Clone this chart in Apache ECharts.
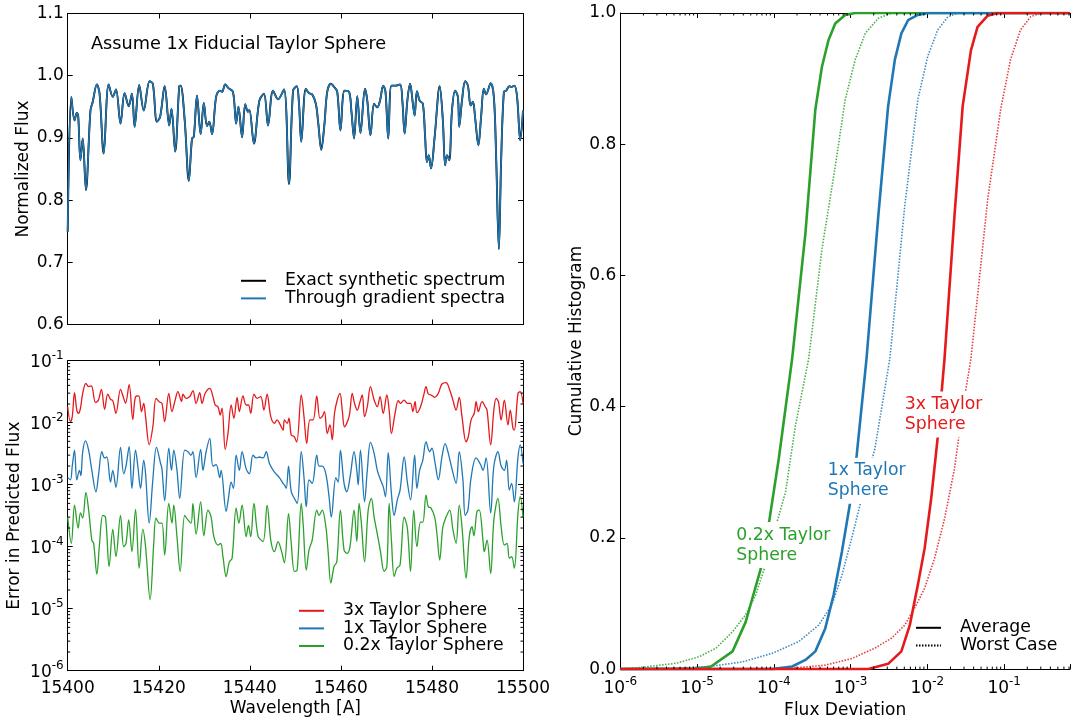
<!DOCTYPE html>
<html><head><meta charset="utf-8">
<script src="https://cdn.jsdelivr.net/npm/echarts@6/dist/echarts.min.js"></script>
<style>html,body{margin:0;padding:0;background:#fff}#c{width:1073px;height:724px}</style>
</head><body><div id="c"></div>
<script>
const FONT = 'DejaVu Sans';
const C_RED = '#e41a1c', C_BLUE = '#1f77b4', C_GREEN = '#2ca02c';

// ---- Top panel: normalized spectrum ----
const specWave = [
15400.0,15400.8,15401.5,15402.0,15402.3,15402.8,15403.3,15404.0,15405.0,15405.5,
15406.4,15407.0,15407.9,15409.0,15409.9,15410.6,15411.6,15412.5,15413.4,15414.1,
15414.7,15415.7,15416.7,15418.0,15418.7,15419.6,15420.3,15421.3,15422.3,15422.8,
15423.6,15424.5,15424.8,15425.7,15426.6,15427.3,15427.7,15428.4,15429.2,15429.9,
15430.6,15431.1,15431.7,15432.6,15433.4,15433.9,15434.6,15435.3,15436.3,15437.0,
15437.5,15438.3,15439.0,15439.6,15439.9,15440.9,15442.1,15443.1,15444.0,15445.1,
15446.2,15447.5,15448.6,15449.5,15450.3,15450.8,15451.3,15452.3,15453.0,15453.7,
15454.5,15455.0,15455.7,15456.4,15457.0,15457.8,15458.5,15459.2,15459.9,15460.8,
15461.8,15462.3,15462.9,15463.6,15464.3,15465.3,15465.8,15466.5,15467.3,15468.0,
15468.6,15469.3,15469.8,15470.4,15471.1,15472.0,15473.0,15473.5,15474.0,15474.6,
15475.2,15475.8,15476.2,15476.7,15477.3,15478.0,15478.5,15478.9,15479.3,15479.8,
15480.6,15481.7,15482.4,15482.9,15483.3,15483.8,15484.4,15485.1,15485.7,15486.0,
15486.6,15487.3,15487.9,15488.5,15489.0,15489.5,15490.2,15490.8,15491.4,15491.9,
15492.9,15493.6,15494.1,15494.7,15495.2,15495.8,15496.3,15497.0,15497.5,15498.1,
15498.7,15499.4,15500.0];
const specFlux = [
0.749,0.966,0.928,0.940,0.936,0.864,0.899,0.816,0.944,0.958,
0.986,0.971,0.875,0.986,0.966,0.978,0.923,0.972,0.951,0.971,
0.918,0.985,0.944,0.991,0.987,0.926,0.934,0.983,0.920,0.947,
0.878,0.983,0.984,0.928,0.831,0.899,0.902,0.968,0.906,0.956,
0.919,0.926,0.906,0.966,0.976,0.974,0.986,0.980,0.974,0.923,
0.950,0.901,0.954,0.942,0.945,0.891,0.960,0.971,0.920,0.976,
0.962,0.978,0.826,0.976,0.983,0.955,0.894,0.979,0.972,0.970,
0.955,0.926,0.881,0.923,0.974,0.987,0.982,0.974,0.912,0.976,
0.974,0.944,0.899,0.967,0.908,0.979,0.960,0.904,0.955,0.949,
0.960,0.984,0.974,0.899,0.984,0.984,0.986,0.960,0.907,0.960,
0.987,0.956,0.936,0.975,0.960,0.955,0.902,0.861,0.872,0.851,
0.902,0.983,0.928,0.856,0.872,0.864,0.944,0.976,0.966,0.918,
0.960,0.991,0.984,0.952,0.958,0.931,0.888,0.934,0.979,0.970,
0.988,0.966,0.870,0.721,0.864,0.974,0.976,0.983,0.982,0.984,
0.966,0.896,0.944];

// ---- Bottom-left panel: error in predicted flux ----
const redWave = [
15400.0,15400.6,15401.0,15401.5,15402.0,15402.4,15402.8,15403.3,15404.0,15404.6,
15405.2,15406.1,15406.7,15407.4,15408.1,15408.8,15409.4,15409.9,15410.6,15411.6,
15412.3,15412.7,15413.5,15414.3,15414.9,15415.6,15416.2,15416.7,15417.1,15417.9,
15418.7,15419.4,15420.1,15420.7,15421.3,15422.2,15422.9,15423.6,15424.2,15425.0,
15425.3,15426.0,15426.8,15427.5,15428.2,15429.0,15429.5,15430.2,15431.2,15431.9,
15432.4,15433.0,15433.5,15433.9,15434.6,15435.2,15435.9,15436.5,15437.2,15437.7,
15438.5,15439.2,15439.7,15440.2,15440.9,15441.6,15442.4,15443.1,15443.8,15444.6,
15445.4,15446.0,15446.7,15447.3,15447.6,15448.2,15448.6,15449.1,15449.7,15450.3,
15451.3,15451.9,15452.5,15453.2,15453.9,15454.7,15455.4,15455.9,15456.4,15457.0,
15457.6,15458.1,15458.6,15459.2,15459.8,15460.3,15460.8,15461.8,15462.5,15463.0,
15463.6,15464.2,15464.7,15465.2,15465.8,15466.5,15467.3,15468.0,15468.6,15469.3,
15470.1,15470.6,15471.1,15471.9,15472.6,15473.1,15473.9,15474.6,15475.3,15475.8,
15476.3,15476.7,15477.5,15478.2,15478.7,15479.2,15479.8,15480.6,15481.4,15482.2,
15483.1,15483.9,15484.6,15485.3,15486.0,15486.6,15487.5,15488.0,15488.6,15489.3,
15489.7,15490.2,15491.0,15491.7,15492.1,15492.9,15493.6,15494.1,15494.6,15495.2,
15495.9,15496.7,15497.2,15497.8,15498.1,15498.9,15499.4,15500.0];
const redErr = [
0.0181,0.0104,0.0125,0.0305,0.0160,0.0142,0.0171,0.0298,0.0432,0.0381,
0.0391,0.0213,0.0227,0.0345,0.0164,0.0290,0.0238,0.0227,0.0142,0.0345,
0.0247,0.0205,0.0410,0.0113,0.0263,0.0270,0.0151,0.0205,0.0125,0.0044,
0.0086,0.0247,0.0218,0.0205,0.0104,0.0298,0.0151,0.0232,0.0317,0.0220,
0.0290,0.0247,0.0263,0.0329,0.0205,0.0305,0.0205,0.0298,0.0358,0.0263,
0.0193,0.0181,0.0133,0.0171,0.0037,0.0067,0.0193,0.0118,0.0257,0.0151,
0.0270,0.0193,0.0193,0.0142,0.0290,0.0247,0.0263,0.0160,0.0290,0.0125,
0.0098,0.0111,0.0092,0.0076,0.0111,0.0098,0.0118,0.0063,0.0060,0.0049,
0.0280,0.0125,0.0046,0.0111,0.0111,0.0270,0.0118,0.0125,0.0151,0.0067,
0.0092,0.0053,0.0142,0.0232,0.0298,0.0160,0.0086,0.0125,0.0298,0.0205,
0.0160,0.0218,0.0280,0.0125,0.0181,0.0381,0.0232,0.0181,0.0263,0.0142,
0.0280,0.0160,0.0067,0.0142,0.0227,0.0205,0.0232,0.0205,0.0205,0.0151,
0.0218,0.0145,0.0181,0.0280,0.0381,0.0290,0.0280,0.0257,0.0298,0.0421,
0.0443,0.0337,0.0232,0.0160,0.0257,0.0125,0.0049,0.0060,0.0111,0.0142,
0.0218,0.0151,0.0218,0.0181,0.0160,0.0044,0.0160,0.0247,0.0218,0.0111,
0.0232,0.0092,0.0160,0.0081,0.0076,0.0298,0.0317,0.0205];

const blueWave = [
15400.0,15400.6,15401.0,15401.5,15402.0,15402.6,15402.9,15403.3,15403.9,15404.6,
15405.3,15406.2,15406.8,15407.5,15408.1,15408.6,15409.4,15409.9,15410.6,15411.6,
15412.3,15412.8,15413.5,15414.1,15414.9,15415.4,15416.0,15416.7,15417.1,15417.9,
15418.7,15419.5,15420.4,15420.7,15421.3,15422.2,15422.8,15423.3,15424.0,15424.6,
15425.7,15426.4,15427.1,15427.5,15428.2,15429.2,15429.7,15430.4,15431.2,15431.9,
15432.6,15433.4,15433.7,15434.8,15435.3,15435.9,15436.4,15437.0,15437.7,15438.3,
15439.2,15439.9,15440.7,15441.4,15442.1,15442.9,15443.6,15444.3,15445.4,15446.5,
15447.3,15447.6,15448.0,15448.5,15449.1,15449.8,15450.4,15451.3,15451.9,15452.4,
15453.0,15453.7,15454.7,15455.2,15455.9,15456.7,15457.4,15457.9,15458.9,15459.4,
15459.9,15460.7,15461.3,15462.0,15462.9,15463.5,15463.8,15464.3,15465.2,15465.8,
15466.5,15467.3,15468.0,15468.7,15469.3,15469.8,15470.4,15471.1,15471.7,15472.4,
15473.0,15473.9,15474.6,15475.3,15476.2,15476.7,15477.3,15478.0,15478.7,15479.5,
15480.0,15480.7,15481.4,15482.2,15482.9,15483.6,15484.4,15485.3,15486.0,15486.8,
15487.3,15487.9,15488.6,15489.7,15490.7,15491.2,15491.9,15492.9,15493.6,15494.5,
15495.2,15495.9,15496.4,15497.0,15497.5,15498.1,15498.9,15499.4,15500.0];
const blueErr = [
0.0013,0.0012,0.0020,0.0036,0.0012,0.0017,0.0014,0.0034,0.0051,0.0036,
0.0017,0.00077,0.0015,0.0034,0.0027,0.0028,0.0011,0.0017,0.00091,0.0040,
0.0015,0.0020,0.0041,0.00087,0.0036,0.0020,0.00087,0.0025,0.0015,0.00024,
0.0012,0.0040,0.0022,0.0018,0.00055,0.0039,0.0017,0.0036,0.0017,0.00060,
0.0036,0.0034,0.0030,0.0034,0.0013,0.0037,0.0017,0.0034,0.0056,0.0020,
0.0021,0.0013,0.0017,0.00037,0.00060,0.0011,0.00087,0.0030,0.0017,0.0034,
0.0018,0.0015,0.0030,0.0027,0.0028,0.0027,0.0034,0.0022,0.0016,0.0013,
0.00105,0.00099,0.00087,0.0020,0.00077,0.00060,0.00050,0.0034,0.0013,0.00044,
0.0012,0.00105,0.0030,0.0020,0.0020,0.0015,0.00064,0.00030,0.0013,0.0011,
0.0036,0.00105,0.00077,0.0013,0.0034,0.0017,0.00099,0.0036,0.00053,0.0017,
0.0048,0.0032,0.0017,0.0012,0.00093,0.00064,0.0033,0.00072,0.00032,0.00057,
0.00082,0.0028,0.0011,0.00057,0.0030,0.00087,0.0017,0.0025,0.0049,0.0034,
0.0039,0.0022,0.0012,0.0028,0.0046,0.0032,0.0018,0.00105,0.0034,0.0012,
0.00032,0.00039,0.0013,0.0027,0.0021,0.0017,0.0027,0.00035,0.0020,0.0034,
0.0020,0.0017,0.0025,0.00082,0.00105,0.00053,0.0028,0.0044,0.0022];

const greenWave = [
15400.0,15400.8,15401.5,15402.3,15402.8,15403.3,15404.0,15404.6,15405.3,15405.7,
15406.4,15407.0,15407.7,15408.3,15409.1,15409.9,15410.6,15411.6,15412.3,15412.8,
15413.4,15414.1,15414.9,15415.7,15416.5,15417.1,15418.1,15418.9,15419.4,15420.1,
15420.7,15421.3,15422.2,15422.9,15423.3,15424.0,15424.7,15425.7,15426.4,15427.1,
15427.5,15428.2,15429.2,15429.9,15430.8,15431.5,15432.1,15433.0,15433.6,15434.1,
15434.8,15435.5,15436.1,15437.0,15437.6,15438.3,15439.2,15439.7,15440.2,15440.9,
15441.8,15442.9,15443.8,15444.6,15445.4,15446.2,15446.9,15447.6,15448.5,15449.1,
15449.8,15450.4,15451.3,15451.7,15452.4,15453.0,15453.7,15454.7,15455.2,15455.9,
15456.7,15457.2,15457.8,15458.5,15459.1,15459.9,15460.7,15461.4,15462.0,15462.9,
15463.5,15464.0,15464.5,15465.2,15466.0,15466.7,15467.3,15468.0,15468.7,15469.5,
15470.1,15470.6,15471.1,15471.7,15472.3,15473.0,15473.9,15474.6,15475.3,15476.0,
15476.7,15477.5,15478.0,15478.7,15479.2,15479.8,15480.6,15481.1,15481.7,15482.4,
15483.1,15483.9,15484.6,15485.3,15486.0,15486.6,15487.5,15488.2,15488.8,15489.2,
15489.9,15490.4,15491.2,15491.5,15492.1,15492.9,15493.6,15494.5,15495.2,15495.9,
15496.5,15497.0,15497.5,15498.1,15498.9,15499.4,15500.0];
const greenErr = [
0.00030,0.000113,0.00047,0.00020,0.00035,0.00029,0.00075,0.00039,0.000128,0.000113,
0.000036,0.000113,0.00032,0.00030,0.000048,0.00019,0.000069,0.00032,0.000100,0.000113,
0.00027,0.000083,0.00040,0.000045,0.00019,0.000100,0.000014,0.000113,0.00029,0.00024,
0.00024,0.000073,0.00050,0.00024,0.00047,0.000145,0.000040,0.00032,0.00027,0.00024,
0.00050,0.00016,0.00053,0.00015,0.00039,0.00030,0.000145,0.000106,0.000113,0.000069,
0.000033,0.000057,0.000065,0.00042,0.00024,0.00047,0.000145,0.00022,0.000145,0.00050,
0.00015,0.000121,0.00047,0.000128,0.000083,0.000121,0.000088,0.000055,0.00034,0.000113,
0.000040,0.000042,0.00050,0.00024,0.000042,0.000088,0.000128,0.00039,0.00032,0.00039,
0.00021,0.000083,0.000026,0.000048,0.000057,0.00039,0.000088,0.000078,0.000100,0.00039,
0.000121,0.00050,0.00024,0.000057,0.00039,0.00060,0.00030,0.00016,0.000083,0.000040,
0.000048,0.00050,0.000128,0.000033,0.000045,0.000051,0.00030,0.00020,0.000040,0.00039,
0.000100,0.00025,0.00025,0.00068,0.00044,0.00042,0.00030,0.00016,0.000061,0.00021,
0.00030,0.00039,0.00019,0.000113,0.00047,0.00021,0.000031,0.000145,0.00021,0.00015,
0.00037,0.00039,0.000128,0.000083,0.000128,0.000037,0.00027,0.00060,0.00021,0.000106,
0.000113,0.000065,0.000069,0.000045,0.00035,0.00064,0.00030];

// ---- Right panel: cumulative histograms ----
const g02AvgX = [1e-6,1.0e-5,1.52e-5,2.9e-5,4.3e-5,5.25e-5,6.76e-5,8.8e-5,1.16e-4,1.73e-4,2.58e-4,3.47e-4,4.23e-4,5.16e-4,6.3e-4,8.5e-4,1.15e-3,0.72];
const g02AvgY = [0,0.001,0.004,0.027,0.072,0.108,0.153,0.229,0.321,0.473,0.665,0.853,0.918,0.959,0.984,0.997,1,1];
const g02WorstX = [1e-6,2.0e-6,5.4e-6,1.07e-5,1.77e-5,2.9e-5,4.3e-5,5.8e-5,7.8e-5,1.1e-4,1.42e-4,1.91e-4,2.84e-4,4.23e-4,6.3e-4,8.5e-4,1.15e-3,1.55e-3,2.3e-3,3.4e-3,0.72];
const g02WorstY = [0,0.003,0.009,0.019,0.032,0.057,0.083,0.113,0.159,0.224,0.27,0.371,0.473,0.640,0.766,0.868,0.929,0.969,0.992,1,1];
const x1AvgX = [1e-6,9.5e-5,1.73e-4,2.58e-4,3.47e-4,4.67e-4,6.0e-4,7.7e-4,9.9e-4,1.2e-3,1.61e-3,2.29e-3,3.08e-3,3.77e-3,4.58e-3,5.6e-3,7.5e-3,1.01e-2,0.72];
const x1AvgY = [0,0,0.004,0.014,0.027,0.062,0.113,0.179,0.255,0.326,0.473,0.69,0.858,0.929,0.969,0.989,0.997,1,1];
const x1WorstX = [1e-6,3.3e-6,1.45e-5,3.9e-5,9.5e-5,2.11e-4,3.83e-4,5.7e-4,7.7e-4,1.03e-3,1.39e-3,2.07e-3,3.24e-3,5.07e-3,7.5e-3,1.01e-2,1.36e-2,1.84e-2,2.48e-2,0.72];
const x1WorstY = [0,0,0.004,0.011,0.024,0.042,0.067,0.098,0.143,0.199,0.260,0.336,0.473,0.706,0.868,0.934,0.974,0.994,1,1];
const x3AvgX = [1e-6,1.7e-3,3.08e-3,4.58e-3,5.9e-3,7.5e-3,9.2e-3,1.12e-2,1.37e-2,1.67e-2,2.25e-2,2.88e-2,3.69e-2,4.5e-2,6.1e-2,8.2e-2,0.72];
const x3AvgY = [0,0,0.008,0.027,0.067,0.128,0.184,0.260,0.356,0.473,0.69,0.858,0.943,0.979,0.996,1,1];
const x3WorstX = [1e-6,6.4e-5,1.73e-4,4.67e-4,1.03e-3,2.07e-3,3.4e-3,5.07e-3,6.8e-3,9.2e-3,1.24e-2,1.67e-2,2.25e-2,2.88e-2,3.69e-2,6.1e-2,9.0e-2,0.121,0.163,0.22,0.296,0.72];
const x3WorstY = [0,0,0.0015,0.006,0.016,0.032,0.047,0.067,0.093,0.123,0.169,0.229,0.305,0.397,0.473,0.716,0.853,0.929,0.974,0.994,1,1];

// curve annotations in the right panel (data coordinates of text anchor)
const annText = ['0.2x Taylor\nSphere', '1x Taylor\nSphere', '3x Taylor\nSphere'];
const annX = [3.05e-5, 4.76e-4, 4.77e-3];
const annY = [0.189, 0.287, 0.388];
const annColor = [C_GREEN, C_BLUE, C_RED];

const zip = (a, b) => a.map((v, i) => [v, b[i]]);

// minor tick positions for log axes
const minorLogY = [], minorLogX = [];
for (let n = -6; n <= -2; n++) for (let k = 2; k <= 9; k++) minorLogY.push(k * Math.pow(10, n));
for (let n = -6; n <= -1; n++) for (let k = 2; k <= 9; k++) { const v = k * Math.pow(10, n); if (v < 0.72) minorLogX.push(v); }

const chart = echarts.init(document.getElementById('c'), null, {renderer: 'canvas'});

function ax(extra) {
  return Object.assign({
    axisLine: {show: true, onZero: false, lineStyle: {color: '#000', width: 1}},
    axisTick: {show: true, inside: true, length: 5, lineStyle: {color: '#000', width: 1}},
    splitLine: {show: false},
    axisLabel: {show: false},
    nameTextStyle: {fontFamily: FONT, fontSize: 17, color: '#000'}
  }, extra);
}
const lab = (extra) => Object.assign({show: true, fontFamily: FONT, fontSize: 17, color: '#000'}, extra);
const logRich = {
  b: {fontFamily: FONT, fontSize: 17, color: '#000', verticalAlign: 'bottom'},
  s: {fontFamily: FONT, fontSize: 12, color: '#000', verticalAlign: 'bottom', padding: [0, 0, 9, 0]}
};
function logFmt(v) {
  const e = Math.log10(v), r = Math.round(e);
  if (Math.abs(e - r) > 1e-6) return '';
  return '{b|10}{s|' + r + '}';
}
const lineS = (name, x, y, xi, yi, color, w, extra) => Object.assign({
  name, type: 'line', xAxisIndex: xi, yAxisIndex: yi, data: zip(x, y),
  symbol: 'none', showSymbol: false, animation: false,
  lineStyle: {color, width: w}, itemStyle: {color}
}, extra || {});
const dotted = [1.5, 1.5];

const legendText = {fontFamily: FONT, fontSize: 17.3, color: '#000', lineHeight: 17.6, padding: [0, 0, 0, 14]};
const legendBase = {orient: 'vertical', itemWidth: 25, itemHeight: 10, itemGap: 0, padding: 0,
  selectedMode: false, textStyle: legendText, itemStyle: {opacity: 0}};

const option = {
  animation: false,
  backgroundColor: '#fff',
  title: {text: 'Assume 1x Fiducial Taylor Sphere', left: 91, top: 35, padding: 0,
    textStyle: {fontFamily: FONT, fontSize: 17.7, fontWeight: 'normal', color: '#000'}},
  grid: [
    {left: 67.7, top: 13.5, width: 455.3, height: 311},
    {left: 67.7, top: 360.7, width: 455.3, height: 310},
    {left: 620.3, top: 13, width: 470, height: 658}
  ],
  legend: [
    Object.assign({data: ['Exact synthetic spectrum', 'Through gradient spectra'], left: 240, top: 272}, legendBase),
    Object.assign({data: ['3x Taylor Sphere', '1x Taylor Sphere', '0.2x Taylor Sphere'], left: 298, top: 602}, legendBase),
    Object.assign({data: ['Average', 'Worst Case'], left: 915, top: 619}, legendBase)
  ],
  xAxis: [
    ax({gridIndex: 0, type: 'value', min: 15400, max: 15500, interval: 20, position: 'bottom'}),
    ax({gridIndex: 0, type: 'value', min: 15400, max: 15500, interval: 20, position: 'top'}),
    ax({gridIndex: 1, type: 'value', min: 15400, max: 15500, interval: 20, position: 'bottom',
        axisLabel: lab({margin: 9, formatter: v => String(v)}), name: 'Wavelength [A]', nameLocation: 'middle', nameGap: 29}),
    ax({gridIndex: 1, type: 'value', min: 15400, max: 15500, interval: 20, position: 'top'}),
    ax({gridIndex: 2, type: 'log', logBase: 10, min: 1e-6, max: 0.72, position: 'bottom',
        axisLabel: lab({margin: 7, formatter: logFmt, rich: logRich}), name: 'Flux Deviation', nameLocation: 'middle', nameGap: 31}),
    ax({gridIndex: 2, type: 'log', logBase: 10, min: 1e-6, max: 0.72, position: 'top'})
  ],
  yAxis: [
    ax({gridIndex: 0, type: 'value', min: 0.6, max: 1.1, interval: 0.1, position: 'left',
        axisLabel: lab({margin: 4, formatter: v => v.toFixed(1)}), name: 'Normalized Flux', nameLocation: 'middle', nameGap: 36}),
    ax({gridIndex: 0, type: 'value', min: 0.6, max: 1.1, interval: 0.1, position: 'right'}),
    ax({gridIndex: 1, type: 'log', logBase: 10, min: 1e-6, max: 0.1, position: 'left',
        axisLabel: lab({margin: 4, formatter: logFmt, rich: logRich}), name: 'Error in Predicted Flux', nameLocation: 'middle', nameGap: 45}),
    ax({gridIndex: 1, type: 'log', logBase: 10, min: 1e-6, max: 0.1, position: 'right'}),
    ax({gridIndex: 2, type: 'value', min: 0, max: 1, interval: 0.2, position: 'left',
        axisLabel: lab({margin: 4, formatter: v => v.toFixed(1)}), name: 'Cumulative Histogram', nameLocation: 'middle', nameGap: 34})
  ],
  series: [
    lineS('Exact synthetic spectrum', specWave, specFlux, 0, 0, '#000', 1.9, {smooth: 0.35}),
    lineS('Through gradient spectra', specWave, specFlux, 0, 0, C_BLUE, 1.6, {smooth: 0.35}),
    lineS('3x Taylor Sphere', redWave, redErr, 2, 2, C_RED, 1.3, {smooth: 0.35}),
    lineS('1x Taylor Sphere', blueWave, blueErr, 2, 2, C_BLUE, 1.3, {smooth: 0.35}),
    lineS('0.2x Taylor Sphere', greenWave, greenErr, 2, 2, C_GREEN, 1.3, {smooth: 0.35}),
    lineS('g02w', g02WorstX, g02WorstY, 4, 4, C_GREEN, 1.6, {lineStyle: {color: C_GREEN, width: 1.6, type: dotted, opacity: 0.85}}),
    lineS('x1w', x1WorstX, x1WorstY, 4, 4, C_BLUE, 1.6, {lineStyle: {color: C_BLUE, width: 1.6, type: dotted, opacity: 0.85}}),
    lineS('x3w', x3WorstX, x3WorstY, 4, 4, C_RED, 1.6, {lineStyle: {color: C_RED, width: 1.6, type: dotted, opacity: 0.85}}),
    lineS('g02a', g02AvgX, g02AvgY, 4, 4, C_GREEN, 2.6),
    lineS('x1a', x1AvgX, x1AvgY, 4, 4, C_BLUE, 2.6),
    lineS('x3a', x3AvgX, x3AvgY, 4, 4, C_RED, 2.6),
    {name: 'Average', type: 'line', xAxisIndex: 4, yAxisIndex: 4, data: [], symbol: 'none',
     lineStyle: {color: '#000', width: 1.2}, itemStyle: {color: '#000'}},
    {name: 'Worst Case', type: 'line', xAxisIndex: 4, yAxisIndex: 4, data: [], symbol: 'none',
     lineStyle: {color: '#000', width: 1, type: dotted}, itemStyle: {color: '#000'}},
    {type: 'scatter', xAxisIndex: 4, yAxisIndex: 4, z: 10, symbolSize: 0, silent: true,
     itemStyle: {opacity: 1},
     data: annText.map((t, i) => ({value: [annX[i], annY[i]], name: t,
       label: {color: annColor[i]}})),
     label: {show: true, position: 'right', distance: 0, formatter: p => p.name, opacity: 1,
       fontFamily: FONT, fontSize: 17.3, lineHeight: 20, align: 'left',
       backgroundColor: '#fff', padding: [3, 2, 3, 2]}},
    {type: 'custom', xAxisIndex: 2, yAxisIndex: 2, silent: true, clip: false, z: 5,
     data: minorLogY.map(v => [15400, v]),
     renderItem: (params, api) => {
       const v = api.value(1);
       const a = api.coord([15400, v]), b = api.coord([15500, v]);
       return {type: 'group', children: [
         {type: 'line', shape: {x1: a[0], y1: a[1], x2: a[0] + 2.5, y2: a[1]}, style: {stroke: '#000', lineWidth: 1}},
         {type: 'line', shape: {x1: b[0], y1: b[1], x2: b[0] - 2.5, y2: b[1]}, style: {stroke: '#000', lineWidth: 1}}
       ]};
     }},
    {type: 'custom', xAxisIndex: 4, yAxisIndex: 4, silent: true, clip: false, z: 5,
     data: minorLogX.map(v => [v, 0]),
     renderItem: (params, api) => {
       const v = api.value(0);
       const a = api.coord([v, 0]), b = api.coord([v, 1]);
       return {type: 'group', children: [
         {type: 'line', shape: {x1: a[0], y1: a[1], x2: a[0], y2: a[1] - 2.5}, style: {stroke: '#000', lineWidth: 1}},
         {type: 'line', shape: {x1: b[0], y1: b[1], x2: b[0], y2: b[1] + 2.5}, style: {stroke: '#000', lineWidth: 1}}
       ]};
     }}
  ]
};
chart.setOption(option);
</script>
</body></html>
